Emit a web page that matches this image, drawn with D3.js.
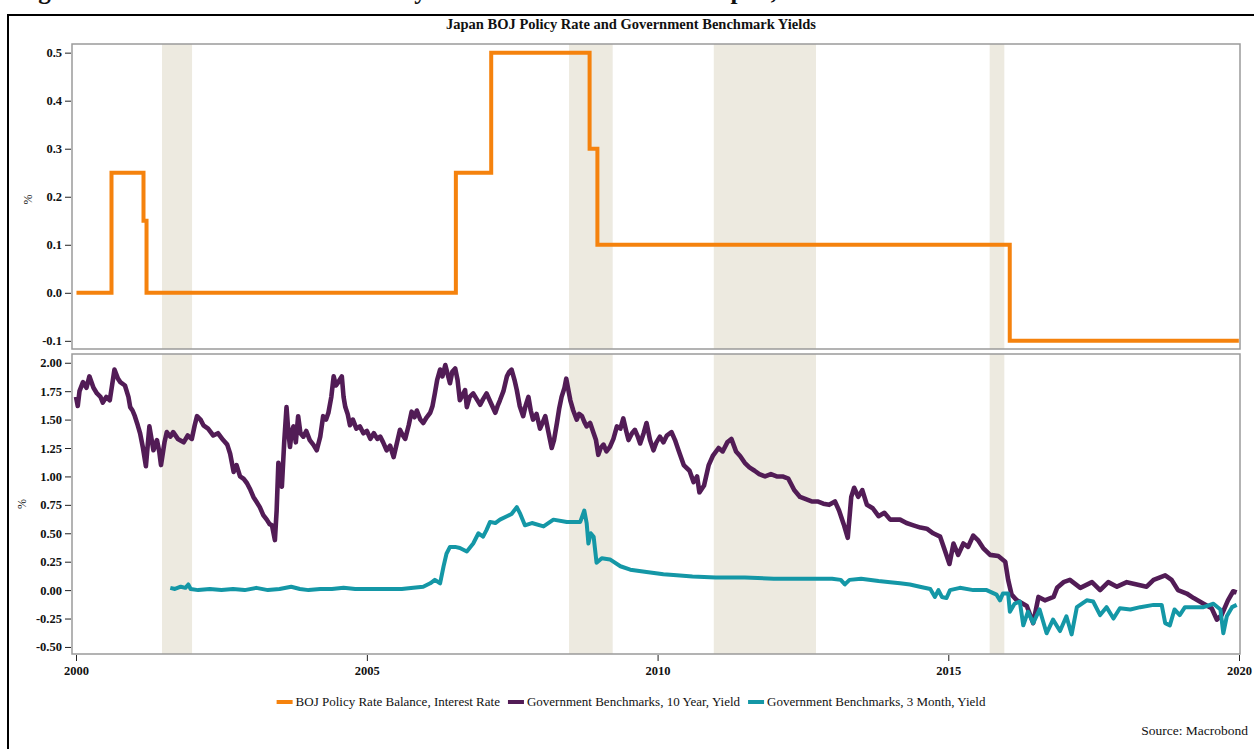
<!DOCTYPE html>
<html>
<head>
<meta charset="utf-8">
<script src="https://cdn.jsdelivr.net/npm/d3@7"></script>
<style>
  html, body { margin: 0; padding: 0; background: #fff; }
  svg { display: block; }
  text { font-family: "Liberation Serif", "Times New Roman", serif; fill: #111; }
</style>
</head>
<body>
<svg id="chart" width="1254" height="749"></svg>
<script>
// ---------------- DATA ----------------
const chartTitle = "Japan BOJ Policy Rate and Government Benchmark Yields";
const headingText = "Figure 4: Interest Rates and Monetary Stance Under the BOJ in Japan, 2000–2019";
const sourceText = "Source: Macrobond";
const seriesNames = ["BOJ Policy Rate Balance, Interest Rate", "Government Benchmarks, 10 Year, Yield", "Government Benchmarks, 3 Month, Yield"];
const seriesColors = ["#F5820D", "#521C56", "#1497A6"];

const xTickYears = [2000, 2005, 2010, 2015, 2020];
const topTicks = [-0.1, 0.0, 0.1, 0.2, 0.3, 0.4, 0.5];
const bottomTicks = [-0.5, -0.25, 0, 0.25, 0.5, 0.75, 1.0, 1.25, 1.5, 1.75, 2.0];

// shaded periods [start, end]
const shadedPeriods = [
  ["2001-06-24", "2001-12-30"],
  ["2008-06-24", "2009-03-25"],
  ["2010-12-20", "2012-09-22"],
  ["2015-09-18", "2015-12-19"]
];

// BOJ policy rate (step changes) [date, %]
const policyRate = [
  ["2000-01-04", 0.00], ["2000-08-11", 0.25], ["2001-02-28", 0.15], ["2001-03-19", 0.00],
  ["2006-07-14", 0.25], ["2007-02-21", 0.50], ["2008-10-31", 0.30], ["2008-12-19", 0.10],
  ["2016-01-22", -0.10], ["2019-12-31", -0.10]
];

// 10-year benchmark yield [decimal year, %]
const tenYearYield = [
[2000.00,1.70],[2000.03,1.62],[2000.06,1.75],[2000.12,1.83],[2000.18,1.78],[2000.23,1.88],[2000.30,1.78],[2000.36,1.73],[2000.42,1.70],[2000.46,1.65],[2000.52,1.70],[2000.58,1.67],[2000.66,1.94],[2000.72,1.86],[2000.76,1.83],[2000.84,1.80],[2000.90,1.70],[2000.93,1.61],[2000.97,1.58],[2001.01,1.53],[2001.06,1.45],[2001.10,1.38],[2001.15,1.25],[2001.20,1.09],[2001.26,1.44],[2001.33,1.23],[2001.39,1.32],[2001.43,1.22],[2001.46,1.10],[2001.52,1.30],[2001.56,1.39],[2001.62,1.35],[2001.67,1.39],[2001.75,1.33],[2001.85,1.30],[2001.92,1.36],[2001.99,1.33],[2002.04,1.45],[2002.08,1.53],[2002.14,1.50],[2002.19,1.45],[2002.27,1.42],[2002.36,1.36],[2002.44,1.38],[2002.53,1.32],[2002.60,1.28],[2002.65,1.20],[2002.71,1.04],[2002.76,1.10],[2002.82,1.00],[2002.88,0.98],[2002.94,0.94],[2003.00,0.88],[2003.05,0.82],[2003.10,0.78],[2003.16,0.73],[2003.22,0.66],[2003.28,0.62],[2003.33,0.58],[2003.37,0.57],[2003.42,0.44],[2003.45,0.70],[2003.48,1.12],[2003.51,0.95],[2003.54,0.91],[2003.58,1.30],[2003.62,1.61],[2003.65,1.40],[2003.68,1.26],[2003.71,1.40],[2003.74,1.44],[2003.78,1.30],[2003.82,1.53],[2003.86,1.38],[2003.91,1.35],[2003.96,1.40],[2004.02,1.32],[2004.08,1.28],[2004.14,1.23],[2004.20,1.35],[2004.25,1.53],[2004.30,1.50],[2004.34,1.56],[2004.39,1.70],[2004.43,1.88],[2004.47,1.80],[2004.51,1.83],[2004.57,1.88],[2004.60,1.70],[2004.63,1.61],[2004.67,1.55],[2004.71,1.45],[2004.76,1.50],[2004.82,1.42],[2004.88,1.44],[2004.94,1.38],[2005.00,1.40],[2005.06,1.33],[2005.12,1.38],[2005.18,1.33],[2005.23,1.35],[2005.28,1.30],[2005.34,1.23],[2005.40,1.27],[2005.46,1.17],[2005.52,1.30],[2005.57,1.41],[2005.62,1.36],[2005.66,1.33],[2005.72,1.45],[2005.77,1.57],[2005.82,1.52],[2005.86,1.58],[2005.92,1.50],[2005.97,1.47],[2006.03,1.52],[2006.09,1.56],[2006.13,1.62],[2006.17,1.73],[2006.21,1.85],[2006.26,1.94],[2006.30,1.88],[2006.35,1.98],[2006.39,1.90],[2006.43,1.82],[2006.47,1.92],[2006.52,1.95],[2006.56,1.85],[2006.60,1.67],[2006.65,1.72],[2006.69,1.76],[2006.72,1.61],[2006.77,1.70],[2006.83,1.73],[2006.89,1.68],[2006.95,1.63],[2007.00,1.68],[2007.06,1.73],[2007.13,1.65],[2007.21,1.56],[2007.25,1.62],[2007.29,1.67],[2007.35,1.75],[2007.41,1.88],[2007.45,1.92],[2007.49,1.94],[2007.54,1.85],[2007.58,1.76],[2007.63,1.62],[2007.69,1.53],[2007.73,1.62],[2007.78,1.70],[2007.82,1.58],[2007.86,1.50],[2007.92,1.55],[2007.98,1.42],[2008.03,1.48],[2008.07,1.53],[2008.12,1.40],[2008.18,1.25],[2008.22,1.32],[2008.27,1.47],[2008.31,1.60],[2008.35,1.70],[2008.40,1.78],[2008.43,1.86],[2008.47,1.75],[2008.50,1.67],[2008.55,1.58],[2008.61,1.50],[2008.65,1.55],[2008.70,1.53],[2008.74,1.48],[2008.78,1.44],[2008.84,1.47],[2008.90,1.38],[2008.94,1.32],[2008.98,1.19],[2009.02,1.25],[2009.07,1.28],[2009.12,1.22],[2009.18,1.26],[2009.24,1.33],[2009.30,1.44],[2009.36,1.42],[2009.41,1.51],[2009.46,1.40],[2009.50,1.32],[2009.56,1.38],[2009.61,1.41],[2009.66,1.35],[2009.70,1.29],[2009.76,1.38],[2009.81,1.47],[2009.87,1.32],[2009.93,1.23],[2009.98,1.30],[2010.04,1.35],[2010.10,1.30],[2010.16,1.36],[2010.24,1.39],[2010.30,1.32],[2010.36,1.23],[2010.45,1.10],[2010.55,1.05],[2010.62,0.95],[2010.68,1.00],[2010.72,0.86],[2010.80,0.92],[2010.88,1.10],[2010.95,1.18],[2011.05,1.25],[2011.12,1.22],[2011.20,1.30],[2011.27,1.33],[2011.35,1.22],[2011.42,1.18],[2011.50,1.12],[2011.58,1.08],[2011.67,1.05],[2011.75,1.02],[2011.85,1.00],[2011.95,1.02],[2012.05,1.00],[2012.15,1.00],[2012.25,0.98],[2012.35,0.88],[2012.45,0.82],[2012.55,0.80],[2012.65,0.78],[2012.75,0.78],[2012.85,0.76],[2012.95,0.75],[2013.05,0.78],[2013.12,0.70],[2013.20,0.58],[2013.27,0.46],[2013.33,0.82],[2013.38,0.90],[2013.45,0.82],[2013.52,0.88],[2013.60,0.75],[2013.70,0.72],[2013.80,0.65],[2013.90,0.68],[2014.00,0.62],[2014.10,0.62],[2014.17,0.62],[2014.28,0.59],[2014.40,0.57],[2014.52,0.55],[2014.63,0.54],[2014.74,0.50],[2014.86,0.47],[2014.94,0.35],[2015.02,0.23],[2015.09,0.41],[2015.17,0.31],[2015.26,0.41],[2015.34,0.38],[2015.43,0.48],[2015.51,0.44],[2015.60,0.37],[2015.72,0.31],[2015.86,0.30],[2015.98,0.25],[2016.03,0.09],[2016.09,-0.04],[2016.18,-0.09],[2016.35,-0.14],[2016.46,-0.29],[2016.55,-0.06],[2016.66,-0.09],[2016.81,-0.06],[2016.87,0.02],[2016.98,0.07],[2017.09,0.09],[2017.27,0.02],[2017.47,0.07],[2017.61,0.00],[2017.75,0.07],[2017.90,0.03],[2018.07,0.07],[2018.24,0.05],[2018.41,0.03],[2018.53,0.09],[2018.73,0.13],[2018.84,0.09],[2018.95,0.00],[2019.10,-0.03],[2019.22,-0.07],[2019.39,-0.12],[2019.53,-0.16],[2019.62,-0.26],[2019.70,-0.22],[2019.81,-0.09],[2019.90,-0.01],[2019.96,-0.02]
];

// 3-month benchmark yield [decimal year, %]
const threeMonthYield = [
[2001.62,0.02],[2001.70,0.01],[2001.80,0.03],[2001.88,0.02],[2001.93,0.05],[2001.97,0.01],[2002.10,0.00],[2002.30,0.01],[2002.50,0.00],[2002.70,0.01],[2002.90,0.00],[2003.10,0.02],[2003.30,0.00],[2003.50,0.01],[2003.70,0.03],[2003.85,0.01],[2004.00,0.00],[2004.20,0.01],[2004.40,0.01],[2004.60,0.02],[2004.80,0.01],[2005.00,0.01],[2005.20,0.01],[2005.40,0.01],[2005.60,0.01],[2005.80,0.02],[2005.97,0.03],[2006.09,0.06],[2006.17,0.09],[2006.26,0.06],[2006.32,0.21],[2006.37,0.32],[2006.43,0.38],[2006.52,0.38],[2006.60,0.37],[2006.72,0.34],[2006.83,0.41],[2006.92,0.50],[2007.00,0.47],[2007.06,0.53],[2007.12,0.60],[2007.21,0.59],[2007.29,0.62],[2007.41,0.65],[2007.49,0.67],[2007.58,0.73],[2007.64,0.67],[2007.72,0.57],[2007.84,0.59],[2008.04,0.56],[2008.21,0.62],[2008.44,0.60],[2008.67,0.60],[2008.74,0.70],[2008.78,0.59],[2008.81,0.41],[2008.85,0.50],[2008.90,0.47],[2008.95,0.24],[2009.04,0.28],[2009.18,0.27],[2009.36,0.21],[2009.53,0.18],[2009.81,0.16],[2010.10,0.14],[2010.33,0.13],[2010.60,0.12],[2011.00,0.11],[2011.50,0.11],[2012.00,0.10],[2012.50,0.10],[2013.00,0.10],[2013.15,0.09],[2013.22,0.05],[2013.30,0.09],[2013.50,0.10],[2013.80,0.08],[2014.00,0.07],[2014.17,0.06],[2014.34,0.05],[2014.51,0.03],[2014.69,0.01],[2014.77,-0.06],[2014.83,0.00],[2014.89,-0.06],[2014.97,-0.07],[2015.03,0.00],[2015.20,0.02],[2015.43,0.00],[2015.66,0.00],[2015.83,-0.04],[2015.89,-0.09],[2015.94,-0.03],[2016.03,-0.03],[2016.06,-0.19],[2016.14,-0.12],[2016.23,-0.10],[2016.29,-0.31],[2016.37,-0.19],[2016.46,-0.29],[2016.57,-0.17],[2016.69,-0.38],[2016.80,-0.26],[2016.92,-0.36],[2017.03,-0.23],[2017.12,-0.39],[2017.21,-0.15],[2017.38,-0.09],[2017.49,-0.10],[2017.61,-0.22],[2017.72,-0.15],[2017.84,-0.25],[2017.95,-0.16],[2018.13,-0.17],[2018.30,-0.15],[2018.53,-0.13],[2018.67,-0.13],[2018.73,-0.29],[2018.81,-0.31],[2018.89,-0.17],[2018.98,-0.22],[2019.07,-0.15],[2019.22,-0.15],[2019.39,-0.15],[2019.56,-0.12],[2019.68,-0.17],[2019.73,-0.38],[2019.79,-0.23],[2019.88,-0.15],[2019.96,-0.13]
];

// ---------------- RENDER ----------------
const svg = d3.select("#chart");
const W = 1254, H = 749;
const plotL = 72, plotR = 1240;
const topPanel = { top: 44, bottom: 349 };
const botPanel = { top: 354, bottom: 654 };

const parseDate = d3.utcParse("%Y-%m-%d");
const yearToDate = y => {
  const yr = Math.floor(y);
  const s = Date.UTC(yr, 0, 1), e = Date.UTC(yr + 1, 0, 1);
  return new Date(s + (y - yr) * (e - s));
};

const xBase = d3.scaleUtc().domain([Date.UTC(2000, 0, 1), Date.UTC(2020, 0, 1)]).range([76, 1239]);
const x = d3.scaleUtc().domain([xBase.invert(plotL), xBase.invert(plotR)]).range([plotL, plotR]);

const yTop = d3.scaleLinear().domain([-0.117, 0.518]).range([topPanel.bottom, topPanel.top]);
const yBot = d3.scaleLinear().domain([-0.562, 2.077]).range([botPanel.bottom, botPanel.top]);

const locale = d3.formatLocale({ decimal: ".", thousands: ",", grouping: [3], currency: ["$", ""], minus: "-" });
const fmt1 = locale.format(".1f"), fmt2 = locale.format(".2f");

// outer frame & clipped heading (only its descenders show, as in the source page)
const defs = svg.append("defs");
defs.append("clipPath").attr("id", "headClip")
  .append("rect").attr("x", 0).attr("y", 0).attr("width", W).attr("height", 14);
svg.append("text")
  .attr("clip-path", "url(#headClip)")
  .attr("x", 16).attr("y", -1)
  .style("font-size", "25px").style("font-weight", "bold")
  .text(headingText);
svg.append("path")
  .attr("d", `M8,${H + 5} L8,15 L${W + 5},15`)
  .attr("fill", "none").attr("stroke", "#000").attr("stroke-width", 2);

// title
svg.append("text")
  .attr("x", 631).attr("y", 29)
  .attr("text-anchor", "middle")
  .style("font-size", "14.5px").style("font-weight", "bold")
  .text(chartTitle);

// clip paths for panels
[["clipTop", topPanel], ["clipBot", botPanel]].forEach(([id, p]) => {
  defs.append("clipPath").attr("id", id).append("rect")
    .attr("x", plotL).attr("y", p.top).attr("width", plotR - plotL).attr("height", p.bottom - p.top);
});

function drawPanel(p, clipId) {
  const g = svg.append("g").attr("clip-path", `url(#${clipId})`);
  g.selectAll("rect.band").data(shadedPeriods).enter().append("rect")
    .attr("class", "band")
    .attr("x", d => x(parseDate(d[0])))
    .attr("width", d => x(parseDate(d[1])) - x(parseDate(d[0])))
    .attr("y", p.top).attr("height", p.bottom - p.top)
    .attr("fill", "#EDEAE0");
  return g;
}

const gTop = drawPanel(topPanel, "clipTop");
const gBot = drawPanel(botPanel, "clipBot");

// policy rate step line
gTop.append("path")
  .datum(policyRate)
  .attr("fill", "none").attr("stroke", seriesColors[0]).attr("stroke-width", 4)
  .attr("stroke-linejoin", "miter")
  .attr("d", d3.line().curve(d3.curveStepAfter)
    .x(d => x(parseDate(d[0]))).y(d => yTop(d[1])));

// yields
const yLine = d3.line().x(d => x(yearToDate(d[0]))).y(d => yBot(d[1]));
gBot.append("path").datum(tenYearYield)
  .attr("fill", "none").attr("stroke", seriesColors[1]).attr("stroke-width", 4.6)
  .attr("stroke-linejoin", "round").attr("d", yLine);
gBot.append("path").datum(threeMonthYield)
  .attr("fill", "none").attr("stroke", seriesColors[2]).attr("stroke-width", 4)
  .attr("stroke-linejoin", "round").attr("d", yLine);

// panel frames
[topPanel, botPanel].forEach(p => {
  svg.append("rect")
    .attr("x", plotL).attr("y", p.top).attr("width", plotR - plotL).attr("height", p.bottom - p.top)
    .attr("fill", "none").attr("stroke", "#9a9a9a").attr("stroke-width", 1.5);
});

// axes
function styleAxis(g) {
  g.select(".domain").remove();
  g.attr("font-family", null);
  g.selectAll(".tick line").attr("stroke", "#222").attr("stroke-width", 1);
  g.selectAll(".tick text")
    .style("font-family", "'Liberation Serif', serif")
    .style("font-size", "12.5px").style("font-weight", "bold").attr("fill", "#111");
}

svg.append("g").attr("transform", `translate(${plotL - 1},0)`)
  .call(d3.axisLeft(yTop).tickValues(topTicks).tickFormat(fmt1).tickSize(6).tickPadding(3))
  .call(styleAxis);
svg.append("g").attr("transform", `translate(${plotL - 1},0)`)
  .call(d3.axisLeft(yBot).tickValues(bottomTicks).tickFormat(fmt2).tickSize(6).tickPadding(3))
  .call(styleAxis);
svg.append("g").attr("transform", `translate(0,${botPanel.bottom + 1})`)
  .call(d3.axisBottom(x).tickValues(xTickYears.map(y => new Date(Date.UTC(y, 0, 1))))
    .tickFormat(d3.utcFormat("%Y")).tickSize(6).tickPadding(5))
  .call(styleAxis);

// y axis unit labels
[[32, (topPanel.top + topPanel.bottom) / 2 + 3], [26, (botPanel.top + botPanel.bottom) / 2]].forEach(([lx, ly]) => {
  svg.append("text")
    .attr("transform", `translate(${lx},${ly}) rotate(-90)`)
    .attr("text-anchor", "middle")
    .style("font-size", "12px")
    .text("%");
});

// legend
const legendY = 702;
const legend = svg.append("g");
const items = seriesNames.map((name, i) => {
  const gi = legend.append("g");
  gi.append("rect").attr("x", 0).attr("y", -2).attr("width", 16).attr("height", 4).attr("fill", seriesColors[i]);
  const t = gi.append("text").attr("x", 19).attr("y", 4).style("font-size", "13px").text(name);
  return { g: gi, w: 19 + t.node().getComputedTextLength() };
});
const gap = 8;
const totalW = d3.sum(items, d => d.w) + gap * (items.length - 1);
let cx = 631 - totalW / 2;
items.forEach(it => {
  it.g.attr("transform", `translate(${cx},${legendY})`);
  cx += it.w + gap;
});

// source
svg.append("text")
  .attr("x", 1248).attr("y", 735)
  .attr("text-anchor", "end")
  .style("font-size", "13.5px")
  .text(sourceText);
</script>
</body>
</html>
